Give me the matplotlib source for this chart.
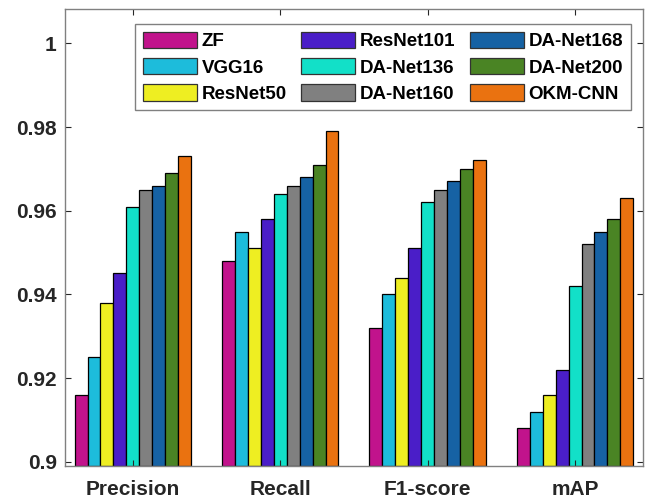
import numpy as np
import matplotlib.pyplot as plt
from matplotlib.patches import Patch

plt.rcParams['font.family'] = ['Liberation Sans', 'DejaVu Sans']
plt.rcParams['font.weight'] = 'bold'

metrics = ['Precision', 'Recall', 'F1-score', 'mAP']
models = ['ZF', 'VGG16', 'ResNet50', 'ResNet101', 'DA-Net136',
          'DA-Net160', 'DA-Net168', 'DA-Net200', 'OKM-CNN']
colors = ['#c1138c', '#1dbcdb', '#eeee22', '#4a1ec8', '#12e0c8',
          '#808080', '#1662a4', '#4a8424', '#ea7210']

# one row per model: precision, recall, f1, mAP
zf        = [0.916, 0.948, 0.932, 0.908]
vgg16     = [0.925, 0.955, 0.940, 0.912]
resnet50  = [0.938, 0.951, 0.944, 0.916]
resnet101 = [0.945, 0.958, 0.951, 0.922]
danet136  = [0.961, 0.964, 0.962, 0.942]
danet160  = [0.965, 0.966, 0.965, 0.952]
danet168  = [0.966, 0.968, 0.967, 0.955]
danet200  = [0.969, 0.971, 0.970, 0.958]
okm_cnn   = [0.973, 0.979, 0.972, 0.963]

scores = np.array([zf, vgg16, resnet50, resnet101, danet136,
                   danet160, danet168, danet200, okm_cnn])

fig = plt.figure(figsize=(6.5, 5), dpi=100)
ax = fig.add_axes([0.1, 0.068, 0.889, 0.914])

x = np.arange(1, len(metrics) + 1)
n = len(models)
w = 0.79 / n
base = 0.899
for i in range(n):
    off = (i - (n - 1) / 2) * w
    ax.bar(x + off, scores[i] - base, bottom=base, width=w,
           color=colors[i], edgecolor='black', linewidth=0.9)

ax.set_xlim(0.54, 4.46)
ax.set_ylim(base, 1.0082)
ax.set_xticks(x)
ax.set_xticklabels(metrics, fontsize=15, fontweight='bold', color='#262626')
ax.set_yticks([0.9, 0.92, 0.94, 0.96, 0.98, 1.0])
ax.set_yticklabels(['0.9', '0.92', '0.94', '0.96', '0.98', '1'],
                   fontsize=15, fontweight='bold', color='#262626')
ax.tick_params(direction='in', length=4, width=0.8, color='#262626',
               top=True, right=True)
ax.tick_params(axis='x', pad=10)
ax.tick_params(axis='y', pad=6)
for s in ax.spines.values():
    s.set_color('#808080')
    s.set_linewidth(1.0)

handles = [Patch(facecolor=c, edgecolor='#333333', linewidth=0.9) for c in colors]
leg = ax.legend(handles, models, ncol=3, loc='upper right',
                bbox_to_anchor=(0.979, 0.967), borderaxespad=0,
                fancybox=False, framealpha=1, edgecolor='#808080',
                prop={'size': 13.5, 'weight': 'bold'},
                handlelength=2.9, handleheight=0.95, handletextpad=0.25,
                columnspacing=0.75, labelspacing=0.42, borderpad=0.4)
leg.get_frame().set_linewidth(1.0)

fig.savefig('out.png', dpi=100)
